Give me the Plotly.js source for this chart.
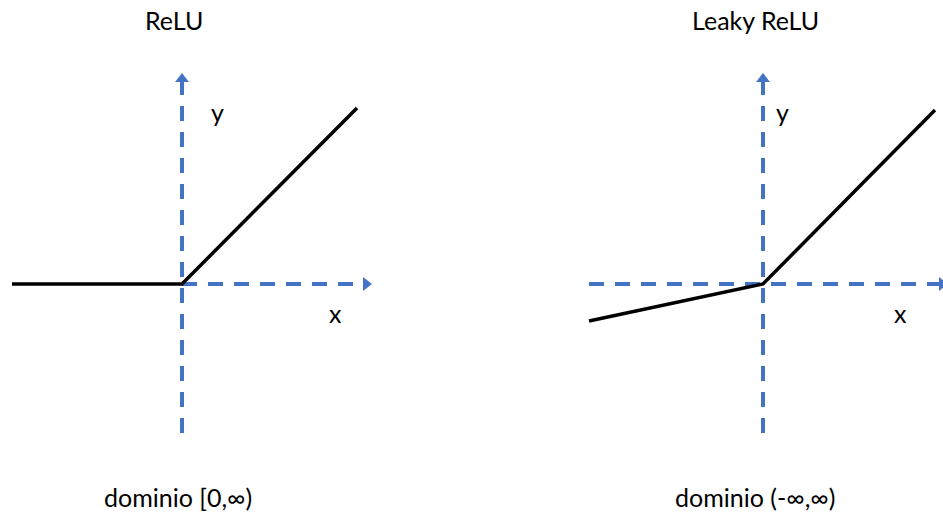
<!DOCTYPE html>
<html>
<head>
<meta charset="utf-8">
<script src="https://cdn.plot.ly/plotly-3.0.1.min.js"></script>
<style>
	html, body { margin: 0; padding: 0; background: #fff; }
	#chart { width: 943px; height: 516px; }
</style>
</head>
<body>
<div id="chart"></div>
<script>
// ReLU curve (left)
const reluX = [ -1.70, 0, 1.75 ];
const reluY = [ 0, 0, 1.76 ];

// Leaky ReLU curve (right)
const leakyX = [ -1.74, 0, 1.72 ];
const leakyY = [ -0.37, 0, 1.74 ];

// dashed axes: [start, end] along each axis
const reluAxisX = [ 0, 1.84 ];
const reluAxisY = [ -1.49, 2.05 ];
const leakyAxisX = [ -1.74, 1.79 ];
const leakyAxisY = [ -1.49, 2.05 ];

// texts
const titles = [ 'ReLU', 'Leaky ReLU' ];
const domains = [ 'dominio [0,∞)', 'dominio (-∞,∞)' ];

const blue = '#4472C4';
const font = 'Lato, "Open Sans", sans-serif';

/**
 * dashed axis with arrow head at the end
 */
function axisTraces( xs, ys, dir, xa, ya ){
	const last = xs.length - 1;
	return [
		{
			x: xs, y: ys, xaxis: xa, yaxis: ya,
			type: 'scatter', mode: 'lines',
			line: { color: blue, width: 4, dash: '15px,11px' },
			hoverinfo: 'skip',
		},
		{
			x: [ xs[last] ], y: [ ys[last] ], xaxis: xa, yaxis: ya,
			type: 'scatter', mode: 'markers',
			marker: { symbol: dir, size: 12, color: blue },
			hoverinfo: 'skip',
		},
	];
}

function curve( xs, ys, xa, ya ){
	return {
		x: xs, y: ys, xaxis: xa, yaxis: ya,
		type: 'scatter', mode: 'lines',
		line: { color: '#000', width: 3.5 },
		hoverinfo: 'skip',
	};
}

let data = [];
// left
data = data.concat(axisTraces([ 0, 0 ], reluAxisY, 'triangle-up', 'x', 'y'));
data = data.concat(axisTraces(reluAxisX, [ 0, 0 ], 'triangle-right', 'x', 'y'));
data.push(curve(reluX, reluY, 'x', 'y'));
// right
data = data.concat(axisTraces([ 0, 0 ], leakyAxisY, 'triangle-up', 'x2', 'y2'));
data = data.concat(axisTraces(leakyAxisX, [ 0, 0 ], 'triangle-right', 'x2', 'y2'));
data.push(curve(leakyX, leakyY, 'x2', 'y2'));

const hidden = { visible: false, fixedrange: true };

function label( text, x, y, xa, ya ){
	return {
		text: text, x: x, y: y, xref: xa, yref: ya,
		showarrow: false,
		font: { family: font, size: 25, color: '#000' },
	};
}

const layout = {
	width: 943,
	height: 516,
	margin: { l: 0, r: 0, t: 0, b: 0 },
	paper_bgcolor: '#fff',
	plot_bgcolor: '#fff',
	showlegend: false,
	xaxis: Object.assign({ domain: [ 0, 0.5 ], range: [ -1.82, 2.895 ] }, hidden),
	yaxis: Object.assign({ domain: [ 0, 1 ], range: [ -2.32, 2.84 ] }, hidden),
	xaxis2: Object.assign({ domain: [ 0.5, 1 ], range: [ -2.915, 1.80 ], anchor: 'y2' }, hidden),
	yaxis2: Object.assign({ domain: [ 0, 1 ], range: [ -2.32, 2.84 ], anchor: 'x2' }, hidden),
	annotations: [
		label(titles[0], -0.08, 2.64, 'x', 'y'),
		label('y', 0.35, 1.72, 'x', 'y'),
		label('x', 1.53, -0.29, 'x', 'y'),
		label(domains[0], -0.04, -2.13, 'x', 'y'),
		label(titles[1], -0.08, 2.64, 'x2', 'y2'),
		label('y', 0.19, 1.72, 'x2', 'y2'),
		label('x', 1.37, -0.29, 'x2', 'y2'),
		label(domains[1], -0.08, -2.13, 'x2', 'y2'),
	],
};

Plotly.newPlot('chart', data, layout, { displayModeBar: false, staticPlot: true });
</script>
</body>
</html>
